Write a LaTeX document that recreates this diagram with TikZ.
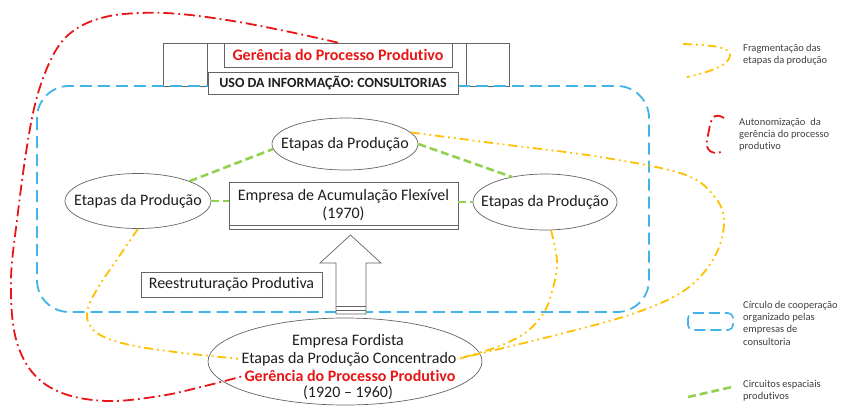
\documentclass[tikz,border=0pt]{standalone}
\usepackage{fontspec}
\setmainfont{Carlito}[Ligatures=NoCommon]
\usetikzlibrary{shapes.geometric}
\definecolor{cred}{RGB}{232,22,22}
\definecolor{cyel}{RGB}{255,192,0}
\definecolor{cblue}{RGB}{64,180,230}
\definecolor{cgreen}{RGB}{146,208,80}
\definecolor{ctxt}{RGB}{30,30,30}
\definecolor{cline}{RGB}{100,100,100}
\definecolor{clegt}{RGB}{64,64,64}
\begin{document}
\begin{tikzpicture}[x=1pt,y=-1pt,
  etapa/.style={ellipse, draw=cline, line width=0.7pt, fill=white, minimum width=146pt, minimum height=52pt, inner sep=0pt},
  txt/.style={font=\fontsize{16}{18}\selectfont, text=ctxt, inner sep=1pt, align=center},
  redtxt/.style={font=\fontsize{16}{18}\selectfont\bfseries, text=cred, inner sep=1pt},
  boxn/.style={draw=cline, line width=0.7pt, fill=white, inner sep=0pt},
  legt/.style={font=\fontsize{10.5}{12.3}\selectfont, text=clegt, align=left, anchor=west, inner sep=0pt},
  yelline/.style={cyel, line width=1.8pt, dash pattern=on 9pt off 4pt on 1.8pt off 4pt on 1.8pt off 4pt},
  redline/.style={cred, line width=1.8pt, dash pattern=on 11pt off 4pt on 1.8pt off 4pt},
  blueline/.style={cblue, line width=1.8pt, dash pattern=on 12pt off 6pt},
  greenline/.style={cgreen, line width=2.6pt, dash pattern=on 8pt off 4pt}
]
\useasboundingbox (0,0) rectangle (841,407);

% top structure
\draw[cline, line width=0.7pt] (163,43) rectangle (509,86);
\draw[cline, line width=0.7pt] (207,43) -- (207,86);
\draw[cline, line width=0.7pt] (466,43) -- (466,86);

% blue cooperation circle
\draw[blueline, rounded corners=32pt] (37,86) rectangle (649,312);

\node[boxn, minimum width=228pt, minimum height=24pt] (G) at (338,55)
  {\fontsize{16}{18}\selectfont\bfseries\color{cred}Gerência do Processo Produtivo};
\node[boxn, minimum width=250pt, minimum height=22pt] (U) at (333,83)
  {\fontsize{14}{16}\selectfont\bfseries\color{ctxt}USO DA INFORMAÇÃO: CONSULTORIAS};

% ellipses
\node[etapa] (T) at (345,144) {};
\node[txt] (Tt) at (T.center) {Etapas da Produção};
\node[etapa, minimum width=146pt, minimum height=55pt] (L) at (138,201) {};
\node[txt] (Lt) at (L.center) {Etapas da Produção};
\node[etapa, minimum width=144pt, minimum height=56pt] (R) at (545,202) {};
\node[txt] (Rt) at (R.center) {Etapas da Produção};

% central box
\node[boxn, minimum width=229pt, minimum height=47pt] (C) at (343.5,205.5) {};
\node[txt] (Ct) at (C.center) {Empresa de Acumulação Flexível\\(1970)};
\draw[cline, line width=0.7pt] ([yshift=4pt]C.south west) -- ([yshift=4pt]C.south east);

% green circuits
\draw[greenline] (L.21) -- (T.184);
\draw[greenline] (L.east) -- (L.east -| C.west);
\draw[greenline] (T.east) -- (R.143);
\draw[greenline] (C.east |- R.west) -- (R.west);

% block arrow
\draw[cline, line width=0.7pt, fill=white] (336,314) -- (336,263) -- (320,263) -- (350.5,235) -- (381,263) -- (366,263) -- (366,314) -- cycle;
\draw[cline, line width=0.7pt] (336,306) -- (366,306);
\draw[cline, line width=0.7pt] (336,310) -- (366,310);

% Reestruturação
\node[boxn, minimum width=181pt, minimum height=25pt] (Rb) at (231.5,284.5)
  {\fontsize{16}{18}\selectfont\color{ctxt}Reestruturação Produtiva};

% bottom ellipse
\node[etapa, minimum width=274pt, minimum height=87pt] (B) at (345,361.5) {};
\node[txt] (b1) at (348,341) {Empresa Fordista};
\node[txt] (etl) at (349,359) {Etapas da Produção Concentrado};
\node[redtxt] (ger2) at (350,376) {Gerência do Processo Produtivo};
\node[txt] (b4) at (348,393) {(1920 – 1960)};

% yellow fragmentation curves
\draw[yelline] plot[smooth, tension=0.6] coordinates {(L.south) (118,258) (99,286) (88,308) (89,324) (102,336) (130,345) (175,352) (etl.west)};
\draw[yelline] plot[smooth, tension=0.6] coordinates {(R.-78) (557,262) (552,292) (543,314) (525,333) (497,347) (etl.east)};
\draw[yelline] plot[smooth, tension=0.6] coordinates {(T.10) (500,144) (600,157) (683,174) (714,196) (724,222) (714,258) (685,290) (635,313) (560,334) (etl.east)};

% red autonomization curve
\draw[redline] plot[smooth, tension=0.6] coordinates {(G.north) (290,32) (233,21) (180,14) (140,13) (105,17) (76,29) (56,50) (39,90) (28,140) (17,220) (11,280) (15,335) (32,372) (62,393) (107,401) (160,396) (205,386) (ger2.west)};

% legend
\draw[yelline] (683,44) .. controls (712,45) and (730,47) .. (730,55) .. controls (730,65) and (710,72) .. (687,77);
\node[legt] (l1) at (743,55) {Fragmentação das\\etapas da produção};
\draw[redline] (724,118) .. controls (716,113) and (712,116) .. (710,125) -- (707,140) .. controls (705,150) and (712,155) .. (721,152);
\node[legt] (l2) at (739,134.5) {Autonomização\ \ da\\gerência do processo\\produtivo};
\draw[blueline, line width=1.6pt, dash pattern=on 11pt off 5pt, rounded corners=5pt] (688,313) rectangle (733,330);
\node[legt] (l3) at (743,323) {Círculo de cooperação\\organizado pelas\\empresas de\\consultoria};
\draw[greenline] (688,397) -- (732,387);
\node[legt] (l4) at (743,391) {Circuitos espaciais\\produtivos};
\end{tikzpicture}
\end{document}
